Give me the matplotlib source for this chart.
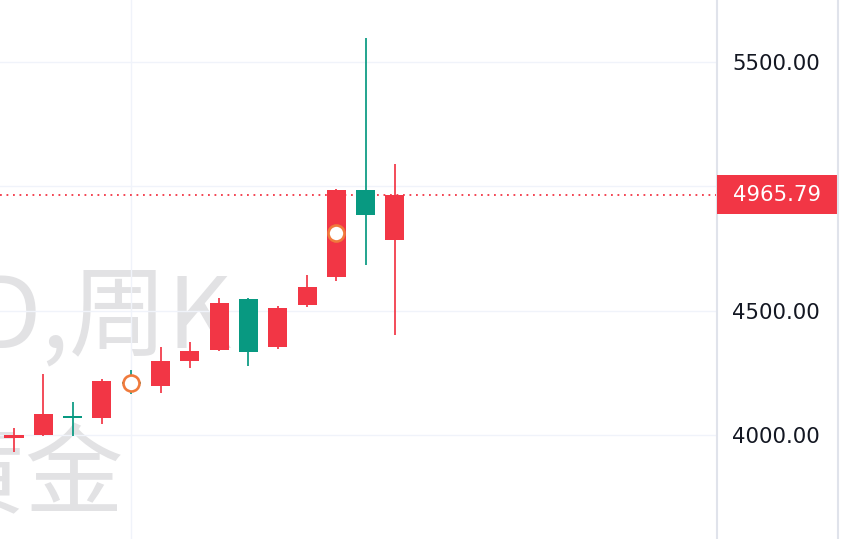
import matplotlib
matplotlib.use("Agg")
import matplotlib.pyplot as plt
import matplotlib.transforms as mtransforms
from matplotlib.patches import Rectangle
from matplotlib.lines import Line2D

# ---- data (weekly candles) ----
opens  = [3987, 4000, 4078, 4070, 4214, 4197, 4296, 4341, 4548, 4355, 4524, 4637, 4985, 4784]
highs  = [4027, 4244, 4131, 4225, 4261, 4353, 4373, 4550, 4550, 4517, 4645, 4989, 5595, 5090]
lows   = [3930, 3997, 3997, 4043, 4165, 4170, 4271, 4338, 4276, 4346, 4515, 4619, 4684, 4401]
closes = [3999, 4083, 4070, 4216, 4206, 4299, 4338, 4532, 4335, 4511, 4595, 4985, 4885, 4965.79]
marker_idx = [4, 11]
marker_val = [4210, 4813]
last_price = 4965.79
y_ticks = [4000, 4500, 5000, 5500]
y_tick_labels = ["4000.00", "4500.00", "", "5500.00"]
watermark_line1 = "XAUUSD,周K"
watermark_line2 = "现货黄金"

UP = "#f23645"
DOWN = "#089981"
GRID = "#f0f3fa"
BORDER = "#e0e3eb"

W, H = 845, 539
fig = plt.figure(figsize=(W / 100, H / 100), dpi=100)
fig.patch.set_facecolor("white")
ax = fig.add_axes([0, 0, 717 / W, 1])
ax.set_facecolor("white")

n = len(opens)
xs = list(range(n))

ax.set_xlim(-0.478, 23.99)
ax.set_ylim(3581.8, 5749.3)

# watermark
wm_kw = dict(transform=fig.transFigure, color="#e2e2e4", fontsize=71,
             family=["Noto Sans CJK SC", "DejaVu Sans"], ha="right",
             va="baseline", zorder=0)
ax.text(232 / W, 1 - 347 / H, watermark_line1, **wm_kw)
ax.text(124 / W, 1 - 506 / H, watermark_line2, **wm_kw)

# grid
ax.set_yticks(y_ticks)
ax.set_yticklabels(y_tick_labels)
ax.set_xticks([4])
ax.set_xticklabels([])
ax.grid(True, color=GRID, linewidth=1.0, zorder=0.5)
ax.set_axisbelow(True)

# candles
colors = [UP if c >= o else DOWN for o, c in zip(opens, closes)]
bottoms = [min(o, c) for o, c in zip(opens, closes)]
heights = [max(abs(c - o), 4) for o, c in zip(opens, closes)]
ax.vlines(xs, lows, highs, colors=colors, linewidth=1.25, zorder=2)
ax.bar(xs, heights, bottom=bottoms, width=0.65, color=colors, linewidth=0, zorder=3)

# event markers
ax.plot(marker_idx, marker_val, linestyle="none", marker="o", markersize=11.5,
        markerfacecolor="white", markeredgecolor="#f07a3c", markeredgewidth=1.9,
        zorder=4)

# last price line
ax.axhline(last_price, color=UP, linewidth=1.3, linestyle=(0, (1, 2.6)), zorder=1.5)

# axis styling
for s in ["top", "left", "bottom"]:
    ax.spines[s].set_visible(False)
ax.spines["right"].set_color(BORDER)
ax.spines["right"].set_linewidth(1.5)
ax.yaxis.tick_right()
ax.tick_params(axis="y", length=0, pad=11, labelsize=15.3, labelcolor="#131722")
ax.tick_params(axis="x", length=0)

# price label box
trans = mtransforms.blended_transform_factory(ax.transAxes, ax.transData)
half = 19.5 / 0.248667
ax.add_patch(Rectangle((1.0, last_price - half), 120 / 717, 2 * half,
                       transform=trans, facecolor=UP, edgecolor="none",
                       clip_on=False, zorder=5))
ax.text(1 + 60 / 717, last_price, f"{last_price:.2f}", transform=trans,
        ha="center", va="center", color="white", fontsize=15.3, zorder=6,
        clip_on=False)

# outer border line of price scale
fig.add_artist(Line2D([838.5 / W, 838.5 / W], [0, 1], transform=fig.transFigure,
                      color=BORDER, linewidth=1.5))

fig.savefig("out.png", dpi=100, facecolor="white")
